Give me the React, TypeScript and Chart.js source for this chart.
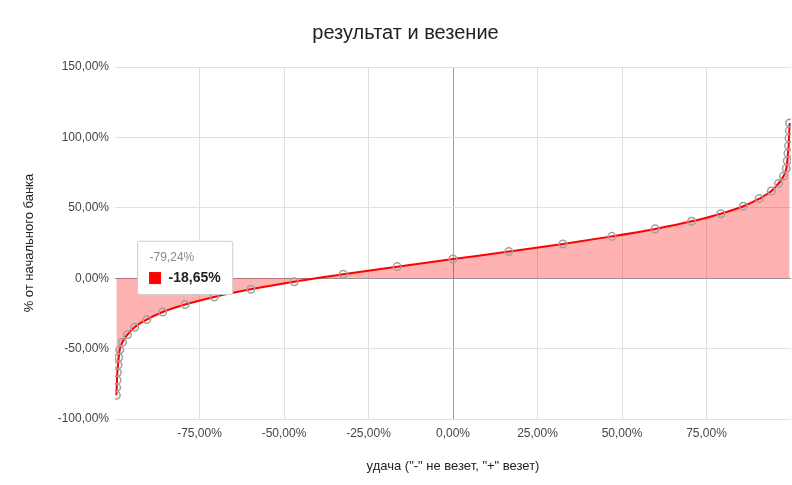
import React, { useEffect, useRef } from "react";
import { Chart, registerables } from "chart.js";

Chart.register(...registerables);

const TITLE = "результат и везение";
const X_TITLE = 'удача ("-" не везет, "+" везет)';
const Y_TITLE = "% от начального банка";

// luck percentile (x, %)
const luck: number[] = [
  -99.6, -99.5, -99.4, -99.3, -99.1, -98.9, -98.6, -97.8, -96.3, -94.2,
  -90.6, -85.9, -79.24, -70.6, -59.8, -47.0, -32.5, -16.5, 0.0,
  16.5, 32.5, 47.0, 59.8, 70.6, 79.24, 85.9, 90.6, 94.2,
  96.3, 97.8, 98.6, 98.9, 99.1, 99.3, 99.4, 99.5, 99.6,
];

// result, % of starting bank (y)
const result: number[] = [
  -83.1, -77.7, -72.4, -67.0, -61.6, -56.3, -50.9, -45.5, -40.1, -34.8,
  -29.4, -24.0, -18.65, -13.3, -7.9, -2.5, 2.8, 8.2, 13.6,
  18.9, 24.3, 29.7, 35.0, 40.4, 45.8, 51.1, 56.5, 61.9,
  67.3, 72.6, 78.0, 83.4, 88.7, 94.1, 99.5, 104.8, 110.2,
];

const xTicks: number[] = [-75, -50, -25, 0, 25, 50, 75];
const yTicks: number[] = [-100, -50, 0, 50, 100, 150];
const ACTIVE_INDEX = 12;

const FONT = "Arial, 'Liberation Sans', sans-serif";
const fmt = (v: number) => v.toFixed(2).replace(".", ",") + "%";

export default function App() {
  const ref = useRef<HTMLCanvasElement | null>(null);

  useEffect(() => {
    if (!ref.current) return;
    Chart.defaults.font.family = FONT;
    const points = luck.map((x, i) => ({ x, y: result[i] }));
    const gridColor = (ctx: any) =>
      ctx.tick && ctx.tick.value === 0 ? "#9a9a9a" : "#e0e0e0";

    const chart = new Chart(ref.current, {
      type: "line",
      data: {
        datasets: [
          {
            data: points,
            borderColor: "#ff0000",
            borderWidth: 2,
            backgroundColor: "rgba(255,0,0,0.3)",
            fill: "origin",
            cubicInterpolationMode: "monotone",
            pointRadius: 3.8,
            pointBorderWidth: 1.5,
            pointBorderColor: "#a0a0a0",
            pointBackgroundColor: "rgba(0,0,0,0)",
            pointHoverRadius: 3.8,
            pointHoverBorderWidth: 1.5,
            pointHoverBorderColor: "#a0a0a0",
            pointHoverBackgroundColor: "rgba(0,0,0,0)",
          },
        ],
      },
      options: {
        responsive: false,
        animation: false,
        events: [],
        layout: { autoPadding: false, padding: { left: 20, right: 1, top: 0, bottom: 0 } },
        plugins: {
          legend: { display: false },
          title: {
            display: true,
            text: TITLE,
            color: "#222",
            font: { size: 20, weight: "normal", family: FONT },
            padding: { top: 21, bottom: 22 },
          },
          tooltip: {
            enabled: true,
            backgroundColor: "#ffffff",
            borderColor: "#cccccc",
            borderWidth: 1,
            cornerRadius: 2,
            caretSize: 0,
            caretPadding: 10,
            xAlign: "center",
            yAlign: "bottom",
            padding: { top: 9, bottom: 8, left: 12, right: 12 },
            titleColor: "#8a8a8a",
            titleFont: { size: 12, weight: "normal", family: FONT },
            titleMarginBottom: 5,
            bodyColor: "#222",
            bodyFont: { size: 14, weight: "bold", family: FONT },
            displayColors: true,
            boxWidth: 11,
            boxHeight: 11,
            boxPadding: 6,
            multiKeyBackground: "#ff0000",
            callbacks: {
              title: (items: any[]) => fmt(items[0].parsed.x),
              label: (item: any) => fmt(item.parsed.y),
              labelColor: () => ({
                borderColor: "#ff0000",
                backgroundColor: "#ff0000",
                borderWidth: 1,
              }),
            },
          },
        },
        scales: {
          x: {
            type: "linear",
            min: -100,
            max: 100,
            afterBuildTicks: (scale: any) => {
              scale.ticks = xTicks.map((v) => ({ value: v }));
            },
            afterFit: (scale: any) => {
              scale.height = 66;
              scale.paddingLeft = 0;
              scale.paddingRight = 0;
            },
            grid: { color: gridColor, drawTicks: false, lineWidth: 1 },
            border: { display: false },
            ticks: {
              color: "#444",
              font: { size: 12, family: FONT },
              padding: 7,
              maxRotation: 0,
              callback: (v: any) => fmt(Number(v)),
            },
            title: {
              display: true,
              text: X_TITLE,
              color: "#222",
              font: { size: 13, family: FONT },
              padding: { top: 0, bottom: 11 },
            },
          },
          y: {
            type: "linear",
            min: -100,
            max: 150,
            afterBuildTicks: (scale: any) => {
              scale.ticks = yTicks.map((v) => ({ value: v }));
            },
            afterFit: (scale: any) => {
              scale.width = 95;
              scale.paddingTop = 0;
              scale.paddingBottom = 0;
            },
            grid: { color: gridColor, drawTicks: false, lineWidth: 1 },
            border: { display: false },
            ticks: {
              color: "#444",
              font: { size: 12, family: FONT },
              padding: 6,
              callback: (v: any) => fmt(Number(v)),
            },
            title: {
              display: true,
              text: Y_TITLE,
              color: "#222",
              font: { size: 13, family: FONT },
              padding: { top: 2, bottom: 0 },
            },
          },
        },
      },
    });

    const active = [{ datasetIndex: 0, index: ACTIVE_INDEX }];
    const el: any = chart.getDatasetMeta(0).data[ACTIVE_INDEX];
    chart.setActiveElements(active);
    chart.tooltip?.setActiveElements(active, { x: el.x, y: el.y });
    chart.update();

    return () => chart.destroy();
  }, []);

  return (
    <div style={{ position: "fixed", left: 0, top: 0, width: 792, height: 485, background: "#fff" }}>
      <canvas ref={ref} width={792} height={485} />
    </div>
  );
}
